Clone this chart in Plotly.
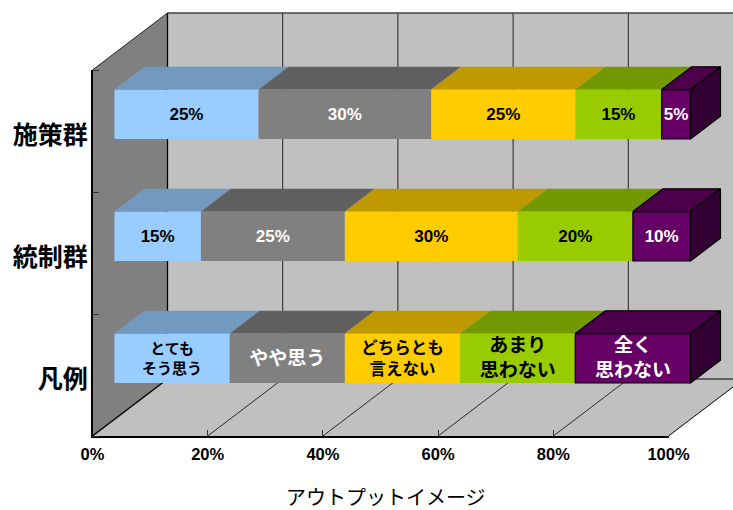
import plotly.graph_objects as go

# ---- data ----
categories = ["凡例", "統制群", "施策群"]
series_names = ["とてもそう思う", "やや思う", "どちらともいえない", "あまり思わない", "全く思わない"]
s1 = [20, 15, 25]
s2 = [20, 25, 30]
s3 = [20, 30, 25]
s4 = [20, 20, 15]
s5 = [20, 10, 5]
s1_text = ["とても<br>そう思う", "15%", "25%"]
s2_text = ["やや思う", "25%", "30%"]
s3_text = ["どちらとも<br>言えない", "30%", "25%"]
s4_text = ["あまり<br>思わない", "20%", "15%"]
s5_text = ["全く<br>思わない", "10%", "5%"]
x_ticks = [0, 20, 40, 60, 80, 100]
x_tick_labels = ["0%", "20%", "40%", "60%", "80%", "100%"]

series = [s1, s2, s3, s4, s5]
texts = [s1_text, s2_text, s3_text, s4_text, s5_text]
front_colors = ["#99CCFF", "#808080", "#FFCC00", "#99CC00", "#660066"]
top_colors = ["#7299BF", "#606060", "#BF9900", "#739900", "#4C004C"]
text_colors = ["black", "white", "black", "black", "white"]
legend_sizes = [15, 19, 16.5, 19, 19]
side_color = "#330033"

# ---- oblique projection: depth d in [0,1] shifts both axes ----
W, H = 733, 510
L, R, T, B = 92.5, 668.5, 70, 436
PX_PER_PCT = (R - L) / 100
PX_PER_BAND = (B - T) / 3
DX = 75 / PX_PER_PCT
DY = 57 / PX_PER_BAND
D_FRONT, D_BACK = 0.293, 0.693
BAR_H = 0.405
FONT = "Liberation Sans, Noto Sans CJK JP"

full_x = [-L / PX_PER_PCT, (W - L) / PX_PER_PCT]
full_y = [(B - H) / PX_PER_BAND, B / PX_PER_BAND]


def proj(x, y, d):
    return x + d * DX, y + d * DY


def poly(pts, fill, line=None, width=1, xa="x", ya="y"):
    xs, ys = zip(*[proj(*p) for p in pts + pts[:1]])
    return go.Scatter(x=xs, y=ys, mode="lines", fill="toself", fillcolor=fill,
                      line=dict(color=line or fill, width=width if line else 0),
                      hoverinfo="skip", showlegend=False, xaxis=xa, yaxis=ya)


def seg(a, b, color="black", width=1):
    xs, ys = zip(proj(*a), proj(*b))
    return go.Scatter(x=xs, y=ys, mode="lines", line=dict(color=color, width=width),
                      hoverinfo="skip", showlegend=False)


fig = go.Figure()
# walls and floor
fig.add_trace(poly([(0, 0, 0), (0, 3, 0), (0, 3, 1), (0, 0, 1)], "#808080"))
fig.add_trace(poly([(0, 0, 1), (0, 3, 1), (100, 3, 1), (100, 0, 1)], "#C0C0C0"))
fig.add_trace(poly([(0, 0, 0), (100, 0, 0), (100, 0, 1), (0, 0, 1)], "#C0C0C0"))
for t in x_ticks[1:-1]:
    fig.add_trace(seg((t, 0, 0), (t, 0, 1), width=0.8))
    fig.add_trace(seg((t, 0, 1), (t, 3, 1), "#222222", 1))
fig.add_trace(seg((0, 0, 1), (0, 3, 1), "black", 1.3))
fig.add_trace(seg((0, 3, 0), (0, 3, 1), "#222222", 1))
fig.add_trace(seg((0, 0, 0), (0, 0, 1), "black", 1.5))
fig.add_trace(seg((0, 0, 1), (100, 0, 1), "black", 1))
fig.add_trace(seg((0, 3, 1), (100, 3, 1), "#444444", 1.3))
fig.add_trace(seg((100, 0, 0), (100, 0, 1), "black", 1))

# bars
fx, fy = proj(0, 0, D_FRONT)
centers = [i + 0.5 for i in range(len(categories))]
for k, (vals, txt) in enumerate(zip(series, texts)):
    bases = [sum(s[i] for s in series[:k]) for i in range(len(vals))]
    is_last = k == len(series) - 1
    sizes = [legend_sizes[k], 17, 17]
    for i, (b, v, c) in enumerate(zip(bases, vals, centers)):
        lo, hi = c - BAR_H / 2, c + BAR_H / 2
        pts = [(b, hi, D_FRONT), (b + v, hi, D_FRONT), (b + v, hi, D_BACK), (b, hi, D_BACK)]
        fig.add_trace(poly(pts, top_colors[k], "black" if is_last else None, 1.2, "x3", "y3"))
        if is_last:
            pts = [(b + v, lo, D_FRONT), (b + v, hi, D_FRONT), (b + v, hi, D_BACK), (b + v, lo, D_BACK)]
            fig.add_trace(poly(pts, side_color, "black", 1.2, "x3", "y3"))
    fig.add_trace(go.Bar(
        orientation="h", name=series_names[k],
        x=vals, base=[b + fx for b in bases], y=[c + fy for c in centers], width=BAR_H,
        marker=dict(color=front_colors[k],
                    line=dict(color="black", width=1.2 if is_last else 0)),
        text=txt, textposition="inside", insidetextanchor="middle", textangle=0,
        constraintext="none", hoverinfo="skip", showlegend=False,
        insidetextfont=dict(family=FONT, size=sizes, color=text_colors[k], weight="bold"),
        xaxis="x3", yaxis="y3"))

# visible axes live on their own inner subplot
fig.add_trace(go.Scatter(x=[0], y=[0], mode="markers", marker=dict(opacity=0), hoverinfo="skip",
                         showlegend=False, xaxis="x2", yaxis="y2"))

fig.add_annotation(text="アウトプットイメージ", xref="paper", yref="paper",
                   x=386 / W, y=(H - 496) / H, showarrow=False,
                   xanchor="center", yanchor="middle",
                   font=dict(family="Noto Sans CJK JP", size=20, color="black"))

hidden = dict(visible=False, fixedrange=True, automargin=False)
fig.update_layout(
    width=W, height=H, autosize=False, barmode="overlay",
    margin=dict(l=0, r=0, t=0, b=0, pad=0, autoexpand=False),
    paper_bgcolor="white", plot_bgcolor="rgba(0,0,0,0)", showlegend=False,
    xaxis=dict(range=full_x, domain=[0, 1], **hidden),
    yaxis=dict(range=full_y, domain=[0, 1], **hidden),
    xaxis3=dict(overlaying="x", range=full_x, anchor="y3", **hidden),
    yaxis3=dict(overlaying="y", range=full_y, anchor="x3", **hidden),
    xaxis2=dict(range=[0, 100], domain=[L / W, R / W], anchor="y2", automargin=False,
                tickvals=x_ticks, ticktext=x_tick_labels, ticks="inside",
                ticklen=6, tickwidth=1, tickcolor="#333333", showgrid=False, zeroline=False,
                showline=True, linecolor="black", linewidth=2, ticklabelstandoff=2,
                tickfont=dict(family=FONT, size=16.5, color="black", weight="bold")),
    yaxis2=dict(range=[0, 3], domain=[(H - B) / H, (H - T) / H], anchor="x2", automargin=False,
                tickvals=[c - 0.035 for c in centers], ticktext=categories, ticks="",
                showgrid=False, zeroline=False, showline=True, linecolor="black", linewidth=1.5,
                ticklabelstandoff=-2,
                minor=dict(tickvals=[0, 1, 2, 3], ticks="inside", ticklen=7, tickwidth=1, tickcolor="#333333"),
                tickfont=dict(family="Noto Sans CJK JP", size=25, color="black", weight="bold")),
)
fig.write_html("out.html", config={"displayModeBar": False},
               post_script="document.body.style.margin='0';")
